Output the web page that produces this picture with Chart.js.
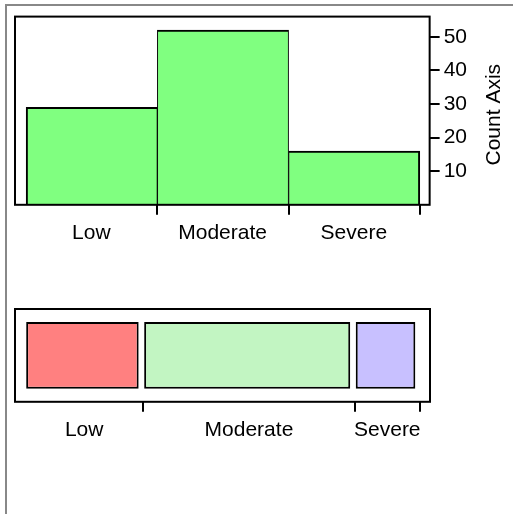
<!DOCTYPE html>
<html>
<head>
<meta charset="utf-8">
<script src="https://cdn.jsdelivr.net/npm/chart.js@4.4.1/dist/chart.umd.min.js"></script>
<style>
  html, body { margin: 0; padding: 0; background: #fff; }
  body { width: 513px; height: 514px; position: relative; overflow: hidden; }
  .frame { position: absolute; left: 5px; top: 4px; right: -10px; bottom: -10px;
           border-left: 2px solid #888; border-top: 2px solid #888; }
  .box { position: absolute; left: 0; width: 513px; }
  #top-box { top: 0; height: 260px; }
  #bottom-box { top: 290px; height: 224px; }
</style>
</head>
<body>
<div class="frame"></div>
<div class="box" id="top-box"><canvas id="count-chart"></canvas></div>
<div class="box" id="bottom-box"><canvas id="mosaic-chart"></canvas></div>
<script>
const categories = ["Low", "Moderate", "Severe"];
const counts = [29, 52, 16];
const countTicks = [10, 20, 30, 40, 50];
const axisTitle = "Count Axis";
const barColor = "#80ff80";
const mosaicColors = ["#ff8080", "#c2f5c2", "#c8c0ff"];

// segment ends and middles for the mosaic strip
let run = 0;
const segmentEnds = counts.map((c) => (run += c));
const segmentMids = counts.map((c, i) => segmentEnds[i] - c / 2);

Chart.defaults.font.family = "'Liberation Sans', Arial, sans-serif";
Chart.defaults.font.size = 21;
Chart.defaults.color = "#000";

const boxPlugin = {
  id: "box",
  afterDatasetsDraw(chart) {
    const a = chart.chartArea;
    const c = chart.ctx;
    c.save();
    c.strokeStyle = "#000";
    c.lineWidth = 2;
    c.strokeRect(a.left, a.top, a.right - a.left, a.bottom - a.top);
    c.restore();
  },
};

const sideTitle = {
  id: "sideTitle",
  afterDraw(chart) {
    const a = chart.chartArea;
    const c = chart.ctx;
    c.save();
    c.translate(chart.scales.y.right + 23, (a.top + a.bottom) / 2 + 4);
    c.rotate(-Math.PI / 2);
    c.font = "21px 'Liberation Sans', Arial, sans-serif";
    c.fillStyle = "#000";
    c.textAlign = "center";
    c.textBaseline = "middle";
    c.fillText(axisTitle, 0, 0);
    c.restore();
  },
};

// little white gaps between the mosaic tiles
const gapPlugin = {
  id: "gap",
  afterDatasetsUpdate(chart) {
    chart.data.datasets.forEach((ds, i) => {
      chart.getDatasetMeta(i).data.forEach((bar) => {
        bar.base += 1;
        bar.x -= 4.5;
      });
    });
  },
};

new Chart(document.getElementById("count-chart"), {
  type: "bar",
  data: {
    datasets: [
      {
        data: categories.map((c, i) => ({ x: i + 0.5, y: counts[i] })),
        backgroundColor: barColor,
        borderColor: "#000",
        borderWidth: (ctx) => ({
          left: ctx.dataIndex === 0 ? 2 : 1,
          right: ctx.dataIndex === categories.length - 1 ? 2 : 1,
          top: 2,
          bottom: 0,
        }),
        barPercentage: 1,
        categoryPercentage: 1,
      },
    ],
  },
  options: {
    responsive: true,
    maintainAspectRatio: false,
    animation: false,
    events: [],
    layout: { padding: { left: 15, top: 13, right: 42, bottom: 8 } },
    plugins: { legend: { display: false }, tooltip: { enabled: false } },
    scales: {
      x: {
        type: "linear",
        offset: false,
        min: -0.085,
        max: 3.075,
        afterBuildTicks: (s) => {
          s.ticks = categories.map((c, i) => ({ value: i + 1 }));
        },
        grid: { offset: false, drawOnChartArea: false, tickLength: 10, lineWidth: 2, color: "#000" },
        border: { display: false },
        ticks: {
          autoSkip: false,
          maxRotation: 0,
          padding: 6,
          labelOffset: -66,
          callback: (v) => categories[v - 1],
        },
      },
      y: {
        position: "right",
        min: 0,
        max: 56,
        afterBuildTicks: (s) => {
          s.ticks = countTicks.map((v) => ({ value: v }));
        },
        grid: { drawOnChartArea: false, tickLength: 10, lineWidth: 2, color: "#000" },
        border: { display: false },
        ticks: { padding: 4 },
      },
    },
  },
  plugins: [boxPlugin, sideTitle],
});

new Chart(document.getElementById("mosaic-chart"), {
  type: "bar",
  data: {
    labels: ["all"],
    datasets: categories.map((c, i) => ({
      label: c,
      data: [counts[i]],
      backgroundColor: mosaicColors[i],
      borderColor: "#000",
      borderWidth: 2,
      borderSkipped: false,
      barPercentage: 0.72,
      categoryPercentage: 1,
    })),
  },
  options: {
    indexAxis: "y",
    responsive: true,
    maintainAspectRatio: false,
    animation: false,
    events: [],
    layout: { padding: { left: 15, top: 19, right: 83, bottom: 65 } },
    plugins: { legend: { display: false }, tooltip: { enabled: false } },
    scales: {
      x: {
        type: "linear",
        stacked: true,
        min: -2.5,
        max: 99.5,
        afterBuildTicks: (s) => {
          const vals = segmentEnds.concat(segmentMids).sort((a, b) => a - b);
          s.ticks = vals.map((v) => ({ value: v }));
        },
        grid: {
          drawOnChartArea: false,
          tickLength: 10,
          lineWidth: 2,
          color: "#000",
          tickColor: (ctx) =>
            ctx.tick && segmentEnds.includes(ctx.tick.value) ? "#000" : "rgba(0,0,0,0)",
        },
        border: { display: false },
        ticks: {
          autoSkip: false,
          maxRotation: 0,
          padding: 6,
          callback: (v) => {
            const k = segmentMids.indexOf(v);
            return k >= 0 ? categories[k] : "";
          },
        },
      },
      y: { stacked: true, display: false },
    },
  },
  plugins: [boxPlugin, gapPlugin],
});
</script>
</body>
</html>
